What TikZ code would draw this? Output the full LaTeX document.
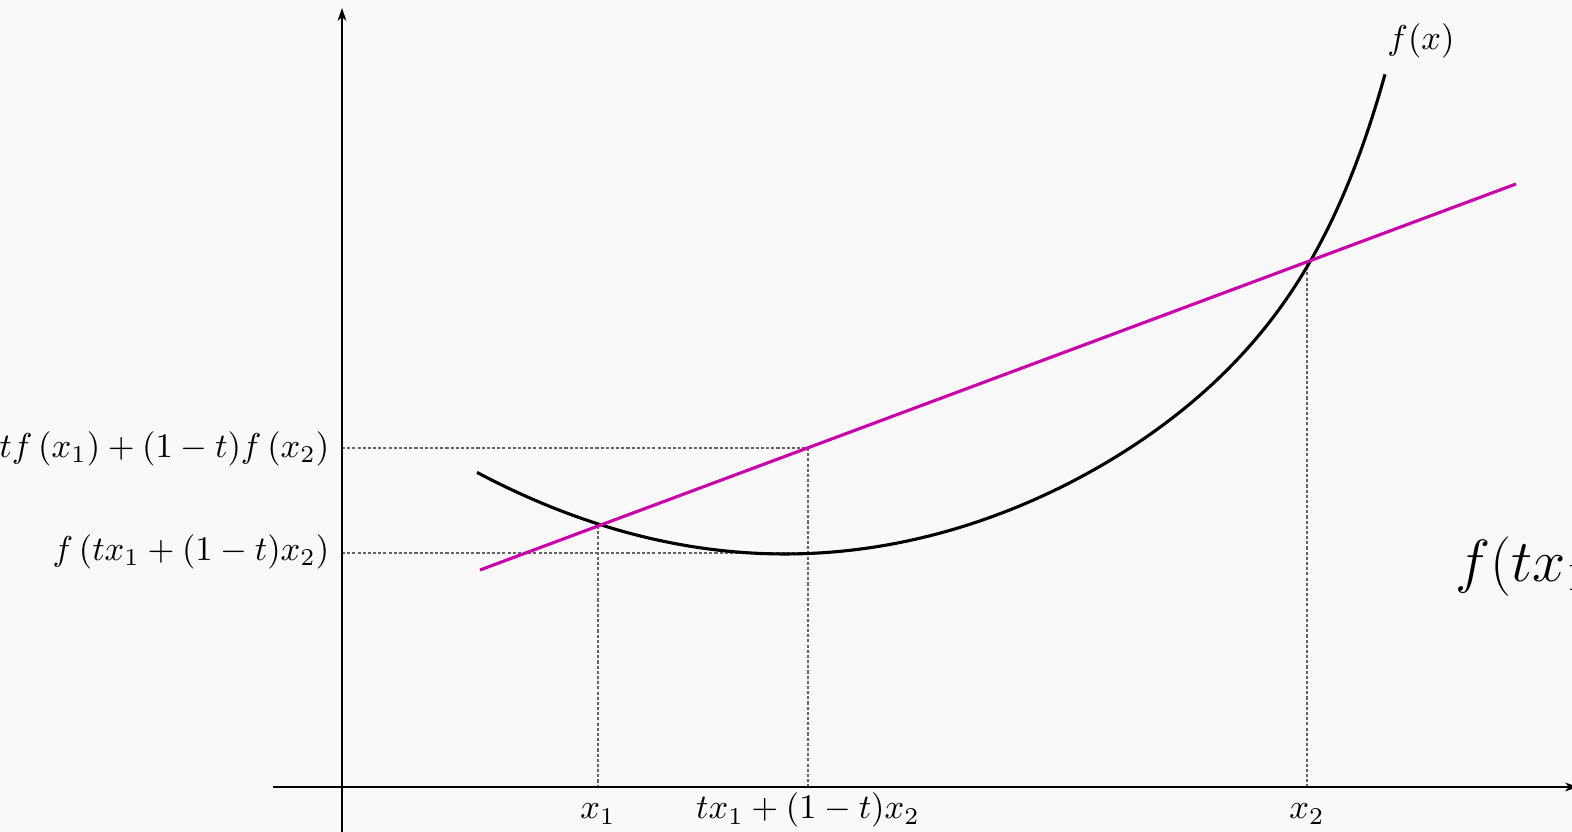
\documentclass[tikz,border=0pt]{standalone}
\usetikzlibrary{arrows.meta}
\definecolor{bgc}{HTML}{F9F9F9}
\definecolor{mag}{RGB}{204,0,170}
\definecolor{dashc}{RGB}{100,100,100}
\begin{document}
\begin{tikzpicture}[x=0.29pt,y=-0.29pt,
  axis/.style={line width=0.55pt,-{Stealth[length=3.8pt,width=2.6pt]}},
  guide/.style={dashc,line width=0.35pt,dash pattern=on 0.9pt off 0.6pt},
  curve/.style={line width=0.9pt,black},
  chord/.style={line width=0.9pt,mag},
  lab/.style={inner sep=0pt}]
\useasboundingbox (0,0) rectangle (1572,832);
\fill[bgc] (0,0) rectangle (1572,832);
\clip (0,0) rectangle (1572,832);
% key points
\coordinate (O) at (342,787);
\coordinate (Xl) at (273,787);
\coordinate (Xr) at (1578,787);
\coordinate (Yb) at (342,840);
\coordinate (Yt) at (342,8);
\coordinate (A) at (598,526);
\coordinate (M) at (808,448);
\coordinate (Mc) at (808,553);
\coordinate (B) at (1307,262);
\coordinate (Ax) at (598,787);
\coordinate (Mx) at (808,787);
\coordinate (Bx) at (1307,787);
\coordinate (Y1) at (342,448);
\coordinate (Y2) at (342,553);
\coordinate (Ls) at (480,570);
\coordinate (Le) at (1516,184);
% guides
\draw[guide] (Y1) -- (M);
\draw[guide] (Y2) -- (Mc);
\draw[guide] (A) -- (Ax);
\draw[guide] (M) -- (Mx);
\draw[guide] (B) -- (Bx);
% axes
\draw[axis] (Xl) -- (Xr);
\draw[axis] (Yb) -- (Yt);
% curve
\draw[curve] plot[domain=-308:600,samples=181,smooth]
  ({785+\x},{554-(8.6*(\x/100)*(\x/100)+0.021*exp(0.015*\x))});
% chord
\draw[chord] (Ls) -- (Le);
% labels
\node[lab,anchor=east] (l1) at (330,449) {$tf\left(x_1\right)+(1-t)f\left(x_2\right)$};
\node[lab,anchor=east] (l2) at (330,552) {$f\left(tx_1+(1-t)x_2\right)$};
\node[lab,anchor=base] (lx1) at (598,819) {$x_1$};
\node[lab,anchor=base] (lm) at (808,819) {$tx_1+(1-t)x_2$};
\node[lab,anchor=base] (lx2) at (1307,819) {$x_2$};
\node[lab] (lf) at (1421,41) {$f(x)$};
\node[lab,anchor=base west] (big) at (1455,582) {\LARGE $f(tx_1+(1-t)x_2)$};
\end{tikzpicture}
\end{document}
